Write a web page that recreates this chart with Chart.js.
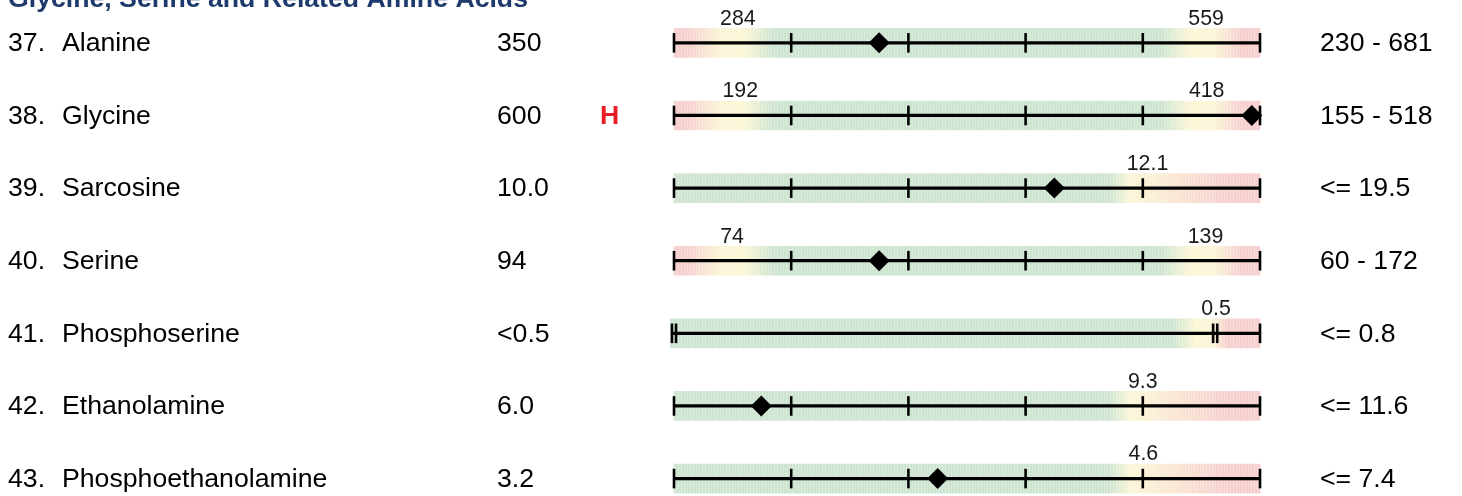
<!DOCTYPE html>
<html>
<head>
<meta charset="utf-8">
<script src="https://cdn.jsdelivr.net/npm/chart.js@4.4.1/dist/chart.umd.min.js"></script>
<style>
  html, body { margin: 0; padding: 0; background: #ffffff; overflow: hidden; }
  #wrap { position: relative; width: 1462px; height: 496px; }
</style>
</head>
<body>
<div id="wrap"><canvas id="c"></canvas></div>
<script>
// ---------------- data ----------------
const title = 'Glycine, Serine and Related Amine Acids';
const rowNumbers = ['37.', '38.', '39.', '40.', '41.', '42.', '43.'];
const analytes = ['Alanine', 'Glycine', 'Sarcosine', 'Serine', 'Phosphoserine', 'Ethanolamine', 'Phosphoethanolamine'];
const results = ['350', '600', '10.0', '94', '<0.5', '6.0', '3.2'];
const flags = ['', 'H', '', '', '', '', ''];
const referenceRanges = ['230 - 681', '155 - 518', '<= 19.5', '60 - 172', '<= 0.8', '<= 11.6', '<= 7.4'];
const bandKinds = ['two', 'two', 'upper', 'two', 'ps', 'upper', 'upper'];
// marker positions on the percentile bar (0 - 100)
const markerPositions = [35.0, 98.6, 64.9, 35.0, null, 14.9, 45.0];
const lowerLimitLabels = ['284', '192', '', '74', '', '', ''];
const lowerLimitPositions = [10.9, 11.3, null, 9.9, null, null, null];
const upperLimitLabels = ['559', '418', '12.1', '139', '0.5', '9.3', '4.6'];
const upperLimitPositions = [90.8, 90.9, 80.8, 90.7, 92.5, 80.0, 80.1];
const barStarts = [0, 0, 0, 0, -0.6, 0, 0];
const barEnd = 100;
const quintileTicks = [0, 20, 40, 60, 80, 100];
const phosphoserineTicks = [-0.35, 0.35, 92.0, 92.7, 100];
const tickSets = [quintileTicks, quintileTicks, quintileTicks, quintileTicks, phosphoserineTicks, quintileTicks, quintileTicks];

// ---------------- styles ----------------
const FONT = '"Liberation Sans", Arial, Helvetica, sans-serif';
const GRN = 'rgb(205,228,209)';
const PINK = 'rgb(246,206,206)';
const YEL = 'rgb(251,246,214)';
const PEACH = 'rgb(250,231,210)';
const gradientStops = {
  two:   [[0, PINK], [2, PINK], [8, YEL], [12, YEL], [17, GRN], [83, GRN], [88, YEL], [92, YEL], [97, PINK], [100, PINK]],
  upper: [[0, GRN], [74, GRN], [78, YEL], [85, PEACH], [95, PINK], [100, PINK]],
  ps:    [[0, GRN], [85, GRN], [89, YEL], [92, YEL], [94.5, PINK], [100, PINK]]
};

const fillCache = {};
function bandFill(chart, kind) {
  const xs = chart.scales.x;
  if (!xs || !chart.chartArea) return GRN;
  const p0 = xs.getPixelForValue(0), p1 = xs.getPixelForValue(100);
  const key = kind + p0 + '_' + p1;
  if (fillCache[key]) return fillCache[key];
  const W = chart.width;
  const off = document.createElement('canvas');
  off.width = W; off.height = 4;
  const octx = off.getContext('2d');
  const g = octx.createLinearGradient(p0, 0, p1, 0);
  gradientStops[kind].forEach(([s, c]) => g.addColorStop(Math.min(1, Math.max(0, s / 100)), c));
  octx.fillStyle = g;
  octx.fillRect(0, 0, W, 4);
  octx.fillStyle = 'rgba(255,255,255,0.28)';
  for (let x = 0; x < W; x += 3) octx.fillRect(x, 0, 1, 4);
  const pat = chart.ctx.createPattern(off, 'repeat-y');
  fillCache[key] = pat;
  return pat;
}

// ---------------- datasets ----------------
const bandData = analytes.map((_, i) => ({ x: [barStarts[i], barEnd], y: i }));
const lineData = analytes.map((_, i) => ({ x: [tickSets[i][0], barEnd], y: i }));
const tickData = [];
tickSets.forEach((set, i) => set.forEach(v => tickData.push({ x: v, y: i })));
const markerData = [];
markerPositions.forEach((v, i) => { if (v !== null) markerData.push({ x: v, y: i }); });

const textPlugin = {
  id: 'reportText',
  afterDatasetsDraw(chart) {
    const { ctx } = chart;
    const xs = chart.scales.x, ys = chart.scales.y;
    ctx.save();
    ctx.textAlign = 'left';
    ctx.textBaseline = 'alphabetic';
    ctx.fillStyle = '#1e3a6c';
    ctx.font = 'bold 26.67px ' + FONT;
    ctx.fillText(title, 8, 7);

    analytes.forEach((name, i) => {
      const yy = ys.getPixelForValue(i) + 1;
      ctx.textBaseline = 'middle';
      ctx.textAlign = 'left';
      ctx.font = '26.67px ' + FONT;
      ctx.fillStyle = '#000000';
      ctx.fillText(rowNumbers[i], 8, yy);
      ctx.fillText(name, 62, yy);
      ctx.fillText(results[i], 497, yy);
      ctx.fillText(referenceRanges[i], 1320, yy);
      if (flags[i]) {
        ctx.fillStyle = '#ec1c24';
        ctx.font = 'bold 26.67px ' + FONT;
        ctx.fillText(flags[i], 600, yy);
      }
      ctx.font = '21.33px ' + FONT;
      ctx.fillStyle = '#1a1a1a';
      ctx.textAlign = 'center';
      const ly = ys.getPixelForValue(i) - 24;
      if (lowerLimitLabels[i]) ctx.fillText(lowerLimitLabels[i], xs.getPixelForValue(lowerLimitPositions[i]), ly);
      if (upperLimitLabels[i]) ctx.fillText(upperLimitLabels[i], xs.getPixelForValue(upperLimitPositions[i]), ly);
    });
    ctx.restore();
  }
};

new Chart(document.getElementById('c'), {
  type: 'bar',
  data: {
    datasets: [
      {
        type: 'scatter', label: 'Result', data: markerData, order: 1,
        pointStyle: 'rectRot', pointRadius: 10.5, pointBackgroundColor: '#000', pointBorderWidth: 0,
        clip: false
      },
      {
        type: 'scatter', label: 'Quintiles', data: tickData, order: 2,
        pointStyle: 'line', pointRotation: 90, pointRadius: 9.8,
        pointBorderColor: '#000', pointBorderWidth: 2.6, clip: false
      },
      {
        type: 'bar', label: 'Axis line', data: lineData, order: 3, indexAxis: 'y',
        backgroundColor: '#000', barThickness: 2.6, grouped: false, borderWidth: 0, clip: false
      },
      {
        type: 'bar', label: 'Band', data: bandData, order: 4, indexAxis: 'y',
        backgroundColor: (c) => bandFill(c.chart, bandKinds[c.dataIndex] || 'two'),
        barThickness: 29, grouped: false, borderWidth: 0, clip: false
      }
    ]
  },
  options: {
    responsive: true,
    maintainAspectRatio: false,
    devicePixelRatio: 1,
    animation: false,
    events: [],
    layout: { autoPadding: false, padding: { left: 674, right: 202, top: 0, bottom: 0 } },
    plugins: { legend: { display: false }, tooltip: { enabled: false }, title: { display: false } },
    scales: {
      x: { type: 'linear', min: 0, max: 100, display: false, offset: false, grid: { offset: false } },
      y: { type: 'linear', min: -0.59, max: 6.24, reverse: true, display: false, offset: false, grid: { offset: false } }
    }
  },
  plugins: [textPlugin]
});
</script>
</body>
</html>
